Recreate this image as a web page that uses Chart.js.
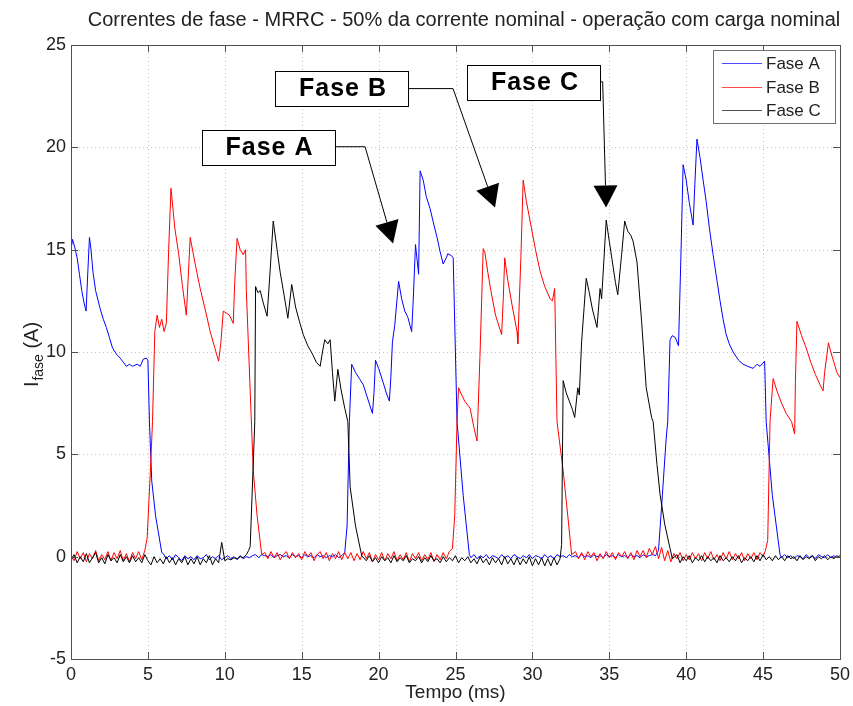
<!DOCTYPE html>
<html>
<head>
<meta charset="utf-8">
<script src="https://cdn.jsdelivr.net/npm/chart.js@4.4.1/dist/chart.umd.min.js"></script>
<style>
  html, body { margin: 0; padding: 0; background: #fff; }
  #wrap { width: 853px; height: 706px; }
</style>
</head>
<body>
<div id="wrap"><canvas id="grafico" width="853" height="706"></canvas></div>
<script>
// Correntes de fase: pares [tempo (ms), corrente (A)]
const faseA = [
  [0,15.0],[0.1,15.5],[0.25,15.1],[0.4,14.6],[0.55,13.8],[0.7,13.0],[0.85,12.4],[0.98,12.0],[1.1,14.0],[1.2,15.6],
  [1.3,15.0],[1.43,13.9],[1.6,13.0],[1.9,12.1],[2.1,11.6],[2.3,11.2],[2.5,10.7],[2.7,10.2],[2.95,9.9],[3.2,9.7],
  [3.4,9.5],[3.6,9.3],[3.8,9.4],[4.0,9.3],[4.3,9.4],[4.5,9.3],[4.7,9.65],[4.9,9.7],[5.0,9.6],[5.1,6.6],
  [5.25,3.7],[5.5,2.0],[5.9,0.2],
  [6.0,0.15],[6.2,-0.1],[6.4,0.05],[6.6,-0.15],[6.8,0.1],[7.0,-0.05],[7.2,-0.2],[7.4,0.05],[7.6,-0.1],[7.8,0.0],
  [8.0,-0.15],[8.2,0.05],[8.4,-0.1],[8.6,-0.05],[8.8,0.1],[9.0,-0.15],[9.2,0.0],[9.4,-0.1],[9.6,0.05],[9.8,-0.15],
  [10.0,-0.05],[10.2,0.05],[10.4,-0.1],[10.6,0.0],[10.8,-0.15],[11.0,0.05],[11.2,-0.1],[11.4,0.0],[11.6,-0.05],[11.8,0.05],
  [12.0,0.1],[12.2,-0.05],[12.4,0.1],[12.6,0.05],[12.8,0.0],[13.0,0.1],[13.2,-0.05],[13.4,0.05],[13.6,0.1],[13.8,0.0],
  [14.0,0.05],[14.2,-0.05],[14.4,0.1],[14.6,0.0],[14.8,0.05],[15.0,-0.05],[15.2,0.1],[15.4,0.0],[15.6,0.05],[15.8,-0.05],
  [16.0,0.1],[16.2,0.0],[16.4,0.05],[16.6,-0.05],[16.8,0.05],[17.0,0.0],[17.2,0.1],[17.4,-0.05],[17.6,0.05],[17.8,0.2],
  [17.95,1.5],[18.1,6.6],[18.25,9.4],[18.5,9.0],[18.75,8.7],[19.0,8.4],[19.3,7.7],[19.6,7.0],[19.7,8.0],[19.8,9.6],
  [20.0,9.2],[20.3,8.5],[20.5,8.0],[20.7,7.6],[20.8,8.8],[20.9,10.5],[21.05,11.3],[21.3,13.45],[21.5,12.6],[21.7,12.0],
  [21.9,11.7],[22.15,11.0],[22.25,12.5],[22.4,15.25],[22.6,13.8],[22.7,18.85],[22.9,18.4],[23.1,17.6],[23.35,17.0],[23.6,16.2],
  [23.8,15.6],[24.0,14.9],[24.2,14.3],[24.4,14.6],[24.5,14.8],[24.75,14.7],[24.85,14.6],[25.1,6.6],[25.5,3.0],[25.9,0.1],
  [26.0,-0.05],[26.2,0.1],[26.4,-0.1],[26.6,0.05],[26.8,-0.05],[27.0,0.1],[27.2,-0.1],[27.4,0.05],[27.6,0.0],[27.8,-0.1],
  [28.0,0.1],[28.2,-0.05],[28.4,0.05],[28.6,-0.1],[28.8,0.1],[29.0,0.0],[29.2,-0.1],[29.4,0.05],[29.6,-0.05],[29.8,0.1],
  [30.0,-0.1],[30.2,0.05],[30.4,0.0],[30.6,-0.1],[30.8,0.1],[31.0,-0.05],[31.2,0.05],[31.4,-0.1],[31.6,0.1],[31.8,0.0],
  [32.0,0.05],[32.2,-0.05],[32.4,0.1],[32.6,0.0],[32.8,0.05],[33.0,-0.05],[33.2,0.1],[33.4,0.0],[33.6,0.05],[33.8,-0.05],
  [34.0,0.1],[34.2,0.0],[34.4,0.05],[34.6,-0.05],[34.8,0.1],[35.0,0.0],[35.2,0.05],[35.4,-0.05],[35.6,0.1],[35.8,0.0],
  [36.0,0.05],[36.2,-0.05],[36.4,0.1],[36.6,0.0],[36.8,0.05],[37.0,-0.05],[37.2,0.1],[37.4,0.0],[37.6,0.05],[37.8,0.1],
  [38.0,0.05],[38.2,0.3],[38.45,3.0],[38.7,5.8],[38.8,6.6],[38.95,10.6],[39.1,10.8],[39.3,10.7],[39.5,10.3],[39.65,14.5],
  [39.8,19.15],[40.0,18.4],[40.2,17.3],[40.45,16.2],[40.55,18.0],[40.7,20.4],[40.9,19.5],[41.1,18.4],[41.3,17.35],[41.5,16.1],
  [41.75,14.75],[42.0,13.5],[42.2,12.5],[42.4,11.6],[42.6,10.85],[42.8,10.4],[43.05,10.0],[43.4,9.6],[43.7,9.4],[44.0,9.3],
  [44.35,9.2],[44.6,9.4],[44.8,9.3],[45.1,9.55],[45.2,6.6],[45.6,3.0],[46.1,0.1],
  [46.2,-0.05],[46.4,0.1],[46.6,-0.05],[46.8,0.05],[47.0,-0.1],[47.2,0.05],[47.4,0.0],[47.6,-0.1],[47.8,0.1],[48.0,-0.05],
  [48.2,0.05],[48.4,-0.1],[48.6,0.1],[48.8,0.0],[49.0,-0.05],[49.2,0.1],[49.4,-0.05],[49.6,0.05],[49.8,-0.05],[50.0,0.05]
];

const faseB = [
  [0,0.1],[0.2,-0.2],[0.4,0.25],[0.6,-0.1],[0.8,0.2],[1.0,-0.25],[1.2,0.15],[1.4,-0.1],[1.6,0.3],[1.8,-0.2],
  [2.0,0.1],[2.2,-0.15],[2.4,0.25],[2.6,-0.2],[2.8,0.2],[3.0,-0.1],[3.2,0.3],[3.4,-0.2],[3.6,0.15],[3.8,-0.25],
  [4.0,0.2],[4.2,-0.1],[4.4,0.25],[4.6,-0.15],[4.8,0.3],
  [4.95,0.9],[5.15,4.0],[5.3,6.6],[5.45,11.0],[5.6,11.8],[5.75,11.2],[5.9,11.6],[6.05,11.0],[6.2,11.4],[6.35,15.0],
  [6.5,18.0],[6.75,16.05],[7.0,14.8],[7.25,13.2],[7.5,11.8],[7.75,15.6],[8.1,14.2],[8.4,13.1],[8.75,12.0],[9.05,11.0],
  [9.35,10.2],[9.6,9.55],[9.75,10.5],[9.9,12.0],[10.1,11.9],[10.3,11.8],[10.55,11.4],[10.65,13.5],[10.8,15.55],[11.0,15.0],
  [11.2,14.75],[11.35,15.0],[11.4,13.0],[11.85,4.2],[12.1,2.0],[12.4,0.1],
  [12.6,0.2],[12.8,-0.1],[13.0,0.25],[13.2,-0.05],[13.4,0.2],[13.6,-0.15],[13.8,0.1],[14.0,0.25],[14.2,-0.1],[14.4,0.2],
  [14.6,-0.05],[14.8,0.15],[15.0,-0.15],[15.2,0.25],[15.4,0.0],[15.6,0.2],[15.8,-0.2],[16.0,0.1],[16.2,0.25],[16.4,-0.1],
  [16.6,0.2],[16.8,-0.2],[17.0,0.15],[17.2,-0.1],[17.4,0.25],[17.6,-0.15],[17.8,0.2],[18.0,-0.1],[18.2,0.2],[18.4,-0.2],
  [18.6,0.15],[18.8,-0.15],[19.0,0.25],[19.2,-0.1],[19.4,0.2],[19.6,-0.25],[19.8,0.1],[20.0,-0.15],[20.2,0.2],[20.4,-0.2],
  [20.6,0.15],[20.8,-0.1],[21.0,0.25],[21.2,-0.2],[21.4,0.1],[21.6,-0.15],[21.8,0.2],[22.0,-0.25],[22.2,0.15],[22.4,-0.1],
  [22.6,0.2],[22.8,-0.2],[23.0,0.1],[23.2,-0.15],[23.4,0.2],[23.6,-0.25],[23.8,0.1],[24.0,-0.15],[24.2,0.2],[24.4,-0.1],
  [24.6,0.25],[24.8,0.4],
  [24.95,2.0],[25.1,6.6],[25.2,8.25],[25.4,7.9],[25.6,7.6],[25.95,7.25],[26.2,6.3],[26.4,5.65],[26.6,10.0],[26.8,15.05],
  [26.9,14.9],[27.1,13.9],[27.3,13.0],[27.6,11.8],[28.0,10.85],[28.1,12.5],[28.2,14.6],[28.4,13.5],[28.7,12.2],[29.0,11.0],
  [29.05,10.4],[29.25,14.6],[29.4,18.4],[29.6,17.4],[29.85,16.4],[30.2,15.0],[30.5,13.95],[30.8,13.2],[31.15,12.6],[31.3,12.5],
  [31.45,13.1],[31.6,6.6],[32.0,4.2],[32.3,2.0],[32.55,0.1],
  [32.8,0.25],[33.0,-0.1],[33.2,0.2],[33.4,-0.15],[33.6,0.25],[33.8,0.0],[34.0,0.2],[34.2,-0.2],[34.4,0.15],[34.6,-0.1],
  [34.8,0.25],[35.0,-0.05],[35.2,0.2],[35.4,-0.15],[35.6,0.2],[35.8,0.0],[36.0,0.25],[36.2,-0.1],[36.4,0.2],[36.6,-0.15],
  [36.8,0.3],[37.0,0.0],[37.2,0.3],[37.4,-0.05],[37.6,0.4],[37.8,0.1],[38.0,0.5],[38.2,-0.1],[38.4,0.45],[38.6,-0.2],
  [38.8,0.3],[39.0,-0.25],[39.2,0.15],[39.4,-0.1],[39.6,0.2],[39.8,-0.2],[40.0,0.1],[40.2,-0.15],[40.4,0.2],[40.6,-0.1],
  [40.8,0.15],[41.0,-0.2],[41.2,0.2],[41.4,-0.1],[41.6,0.25],[41.8,-0.15],[42.0,0.1],[42.2,-0.2],[42.4,0.2],[42.6,-0.1],
  [42.8,0.25],[43.0,-0.15],[43.2,0.15],[43.4,-0.1],[43.6,0.2],[43.8,-0.2],[44.0,0.15],[44.2,-0.1],[44.4,0.2],[44.6,-0.15],
  [44.8,0.2],[45.0,0.0],[45.15,0.3],
  [45.3,0.8],[45.45,6.6],[45.65,8.7],[45.9,8.1],[46.2,7.5],[46.5,7.0],[46.85,6.6],[47.05,6.0],[47.1,8.5],[47.2,11.5],
  [47.5,10.8],[47.8,10.2],[48.1,9.5],[48.4,8.9],[48.7,8.4],[48.9,8.1],[49.0,9.0],[49.25,10.45],[49.4,10.0],[49.6,9.5],
  [49.8,9.0],[50.0,8.75]
];

const faseC = [
  [0,-0.2],[0.2,0.1],[0.4,-0.3],[0.6,0.0],[0.8,-0.25],[1.0,0.15],[1.2,-0.3],[1.4,-0.05],[1.6,0.2],[1.8,-0.3],
  [2.0,-0.05],[2.2,-0.35],[2.4,0.1],[2.6,-0.2],[2.8,-0.05],[3.0,-0.3],[3.2,0.1],[3.4,-0.25],[3.6,0.0],[3.8,-0.3],
  [4.0,0.05],[4.2,-0.25],[4.4,-0.05],[4.6,-0.3],[4.8,0.1],[5.0,-0.2],[5.2,-0.4],[5.4,0.0],[5.6,-0.3],[5.8,-0.1],
  [6.0,-0.35],[6.2,0.0],[6.4,-0.3],[6.6,-0.05],[6.8,-0.4],[7.0,-0.1],[7.2,-0.3],[7.4,0.0],[7.6,-0.4],[7.8,-0.1],
  [8.0,-0.35],[8.2,0.0],[8.4,-0.4],[8.6,-0.1],[8.8,-0.3],[9.0,0.05],[9.2,-0.4],[9.4,-0.1],[9.6,-0.3],[9.8,0.7],
  [10.0,-0.2],[10.2,-0.1],[10.4,-0.15],[10.6,-0.05],[10.8,-0.1],[11.0,0.0],[11.2,-0.05],[11.4,0.1],[11.55,0.3],
  [11.65,0.5],[11.95,6.6],[12.0,13.2],[12.15,12.9],[12.3,13.0],[12.5,12.4],[12.75,11.75],[12.95,14.0],[13.15,16.4],[13.4,15.0],
  [13.6,13.9],[13.85,12.8],[14.1,11.65],[14.35,13.3],[14.6,12.2],[14.85,11.5],[15.1,10.85],[15.4,10.3],[15.7,9.9],[15.95,9.5],
  [16.2,9.3],[16.35,10.0],[16.5,10.6],[16.7,10.4],[16.85,10.6],[17.0,9.0],[17.15,7.6],[17.35,9.15],[17.55,8.2],[17.8,7.25],
  [18.0,6.6],[18.15,3.4],[18.5,1.5],[18.9,0.05],
  [19.2,-0.2],[19.4,0.05],[19.6,-0.25],[19.8,-0.05],[20.0,-0.3],[20.2,0.0],[20.4,-0.2],[20.6,-0.05],[20.8,-0.3],[21.0,0.05],
  [21.2,-0.25],[21.4,-0.05],[21.6,-0.2],[21.8,0.05],[22.0,-0.3],[22.2,-0.1],[22.4,-0.2],[22.6,0.0],[22.8,-0.3],[23.0,-0.05],
  [23.2,-0.25],[23.4,0.05],[23.6,-0.2],[23.8,-0.1],[24.0,-0.3],[24.2,0.0],[24.4,-0.25],[24.6,-0.05],[24.8,-0.2],[25.0,0.05],
  [25.2,-0.3],[25.4,-0.05],[25.6,-0.2],[25.8,0.0],[26.0,-0.3],[26.2,-0.1],[26.4,-0.35],[26.6,0.0],[26.8,-0.3],[27.0,-0.1],
  [27.2,-0.4],[27.4,-0.05],[27.6,-0.3],[27.8,-0.1],[28.0,-0.4],[28.2,0.0],[28.4,-0.35],[28.6,-0.1],[28.8,-0.4],[29.0,-0.05],
  [29.2,-0.4],[29.4,-0.1],[29.6,-0.35],[29.8,0.0],[30.0,-0.45],[30.2,-0.1],[30.4,-0.4],[30.6,-0.05],[30.8,-0.45],[31.0,-0.1],
  [31.2,-0.45],[31.4,-0.05],[31.6,-0.4],[31.8,-0.1],
  [31.9,0.6],[32.0,8.6],[32.2,8.0],[32.4,7.6],[32.6,7.2],[32.75,6.8],[32.95,8.25],[33.05,7.9],[33.2,10.5],[33.5,13.6],
  [33.7,12.9],[33.9,12.1],[34.2,11.2],[34.4,13.1],[34.5,12.6],[34.65,14.5],[34.8,16.45],[35.0,15.4],[35.2,14.4],[35.4,13.4],
  [35.55,12.8],[35.8,14.75],[36.0,16.4],[36.2,15.9],[36.4,15.7],[36.55,15.4],[36.8,14.4],[37.1,11.5],[37.4,8.25],[37.75,6.8],
  [37.85,6.6],[38.1,4.5],[38.3,3.05],[38.6,1.6],[38.95,0.4],[39.1,-0.1],
  [39.4,0.1],[39.6,-0.3],[39.8,0.0],[40.0,-0.2],[40.2,0.05],[40.4,-0.3],[40.6,-0.05],[40.8,-0.2],[41.0,0.05],[41.2,-0.25],
  [41.4,0.0],[41.6,-0.2],[41.8,-0.05],[42.0,-0.3],[42.2,0.05],[42.4,-0.2],[42.6,-0.05],[42.8,-0.25],[43.0,0.0],[43.2,-0.2],
  [43.4,0.05],[43.6,-0.3],[43.8,-0.05],[44.0,-0.2],[44.2,0.0],[44.4,-0.25],[44.6,0.05],[44.8,-0.2],[45.0,0.1],[45.2,-0.15],
  [45.4,0.0],[45.6,-0.2],[45.8,0.05],[46.0,-0.15],[46.2,0.0],[46.4,-0.2],[46.6,0.05],[46.8,-0.1],[47.0,0.0],[47.2,-0.2],
  [47.4,0.05],[47.6,-0.15],[47.8,0.0],[48.0,-0.1],[48.2,0.05],[48.4,-0.2],[48.6,0.0],[48.8,-0.1],[49.0,0.05],[49.2,-0.15],
  [49.4,0.0],[49.6,-0.1],[49.8,0.05],[50.0,-0.05]
];

const nomesSeries = ['Fase A', 'Fase B', 'Fase C'];
const coresSeries = ['#0000ff', '#ff0000', '#000000'];
const coresLegenda = ['#4a4aff', '#ff4a4a', '#505050'];
const xTicks = [0, 5, 10, 15, 20, 25, 30, 35, 40, 45, 50];
const yTicks = [-5, 0, 5, 10, 15, 20, 25];

// caixas de texto com setas: centro da caixa, cotovelo e ponta da seta (ms, A)
const rotulos = [
  { texto: 'Fase A', centro: [12.84, 20.0], cotovelo: [19.12, 20.03], ponta: [20.94, 15.3] },
  { texto: 'Fase B', centro: [17.62, 22.88], cotovelo: [24.84, 22.87], ponta: [27.57, 17.06] },
  { texto: 'Fase C', centro: [30.1, 23.17], cotovelo: [34.57, 23.2], ponta: [34.79, 17.06] }
];

const tituloGrafico = 'Correntes de fase - MRRC - 50% da corrente nominal - operação com carga nominal';
const FONTE = '"Liberation Sans", Arial, sans-serif';

const molduraPlugin = {
  id: 'moldura',
  beforeDatasetsDraw(chart) {
    const ctx = chart.ctx, a = chart.chartArea;
    const sx = chart.scales.x, sy = chart.scales.y;
    ctx.save();
    ctx.strokeStyle = '#c4c4c4';
    ctx.lineWidth = 1;
    ctx.setLineDash([1, 3]);
    xTicks.forEach(function(t) {
      const px = Math.round(sx.getPixelForValue(t)) + 0.5;
      ctx.beginPath(); ctx.moveTo(px, a.top); ctx.lineTo(px, a.bottom); ctx.stroke();
    });
    yTicks.forEach(function(t) {
      const py = Math.round(sy.getPixelForValue(t)) + 0.5;
      ctx.beginPath(); ctx.moveTo(a.left, py); ctx.lineTo(a.right, py); ctx.stroke();
    });
    ctx.restore();
  },
  afterDatasetsDraw(chart) {
    const ctx = chart.ctx, a = chart.chartArea;
    const sx = chart.scales.x, sy = chart.scales.y;
    ctx.save();
    // caixa dos eixos e marcas para dentro
    ctx.strokeStyle = '#505050';
    ctx.lineWidth = 1;
    ctx.strokeRect(Math.round(a.left) + 0.5, Math.round(a.top) + 0.5, Math.round(a.right - a.left), Math.round(a.bottom - a.top));
    ctx.beginPath();
    xTicks.forEach(function(t) {
      const px = Math.round(sx.getPixelForValue(t)) + 0.5;
      ctx.moveTo(px, a.bottom); ctx.lineTo(px, a.bottom - 7);
      ctx.moveTo(px, a.top); ctx.lineTo(px, a.top + 7);
    });
    yTicks.forEach(function(t) {
      const py = Math.round(sy.getPixelForValue(t)) + 0.5;
      ctx.moveTo(a.left, py); ctx.lineTo(a.left + 7, py);
      ctx.moveTo(a.right, py); ctx.lineTo(a.right - 7, py);
    });
    ctx.stroke();

    // rótulos com setas
    rotulos.forEach(function(r) {
      const cx = sx.getPixelForValue(r.centro[0]), cy = sy.getPixelForValue(r.centro[1]);
      const ex = sx.getPixelForValue(r.cotovelo[0]), ey = sy.getPixelForValue(r.cotovelo[1]);
      const tx = sx.getPixelForValue(r.ponta[0]), ty = sy.getPixelForValue(r.ponta[1]);
      const w = 133, h = 35;
      ctx.fillStyle = '#fff';
      ctx.fillRect(cx - w / 2, cy - h / 2, w, h);
      ctx.strokeStyle = '#000';
      ctx.lineWidth = 1;
      ctx.strokeRect(Math.round(cx - w / 2) + 0.5, Math.round(cy - h / 2) + 0.5, w, h);
      ctx.fillStyle = '#000';
      ctx.font = 'bold 25px ' + FONTE;
      ctx.letterSpacing = '1px';
      ctx.textAlign = 'center';
      ctx.textBaseline = 'middle';
      ctx.fillText(r.texto, cx + 1, cy + 1);
      ctx.letterSpacing = '0px';
      // linha até a ponta
      const ang = Math.atan2(ty - ey, tx - ex);
      const comp = 22, meia = 12;
      const bx = tx - comp * Math.cos(ang), by = ty - comp * Math.sin(ang);
      ctx.beginPath();
      ctx.moveTo(cx + w / 2, ey);
      ctx.lineTo(ex, ey);
      ctx.lineTo(bx, by);
      ctx.stroke();
      ctx.beginPath();
      ctx.moveTo(tx, ty);
      ctx.lineTo(bx + meia * Math.sin(ang), by - meia * Math.cos(ang));
      ctx.lineTo(bx - meia * Math.sin(ang), by + meia * Math.cos(ang));
      ctx.closePath();
      ctx.fill();
    });

    // legenda no canto superior direito
    const lx = a.right - 127, ly = a.top + 5, lw = 122, lh = 73;
    ctx.fillStyle = '#fff';
    ctx.fillRect(lx, ly, lw, lh);
    ctx.strokeStyle = '#707070';
    ctx.lineWidth = 1;
    ctx.strokeRect(Math.round(lx) + 0.5, Math.round(ly) + 0.5, lw, lh);
    ctx.font = '17px ' + FONTE;
    ctx.textAlign = 'left';
    ctx.textBaseline = 'middle';
    nomesSeries.forEach(function(nome, i) {
      const yy = Math.round(ly + 13 + i * 23.5) + 0.5;
      ctx.beginPath();
      ctx.strokeStyle = coresLegenda[i];
      ctx.lineWidth = 1.2;
      ctx.moveTo(lx + 9, yy); ctx.lineTo(lx + 49, yy);
      ctx.stroke();
      ctx.fillStyle = '#222';
      ctx.fillText(nome, lx + 53, yy + 1);
    });
    ctx.lineWidth = 1;

    // títulos
    ctx.fillStyle = '#222';
    ctx.font = '20px ' + FONTE;
    ctx.textAlign = 'center';
    ctx.textBaseline = 'middle';
    ctx.fillText(tituloGrafico, 464, 20, 758);
    ctx.font = '19px ' + FONTE;
    ctx.fillText('Tempo (ms)', (a.left + a.right) / 2, 693);
    ctx.translate(32, (a.top + a.bottom) / 2 + 3);
    ctx.rotate(-Math.PI / 2);
    ctx.textAlign = 'left';
    ctx.font = '20px ' + FONTE;
    const wI = ctx.measureText('I').width;
    ctx.font = '14px ' + FONTE;
    const wSub = ctx.measureText('fase').width;
    ctx.font = '20px ' + FONTE;
    const wA = ctx.measureText(' (A)').width;
    let x0 = -(wI + wSub + wA) / 2;
    ctx.fillText('I', x0, 0);
    ctx.font = '14px ' + FONTE;
    ctx.fillText('fase', x0 + wI + 1, 7);
    ctx.font = '20px ' + FONTE;
    ctx.fillText(' (A)', x0 + wI + wSub + 1, 0);
    ctx.restore();
  }
};

const datasets = [faseA, faseB, faseC].map(function(serie, i) {
  return {
    label: nomesSeries[i],
    data: serie.map(function(p) { return { x: p[0], y: p[1] }; }),
    borderColor: coresSeries[i],
    borderWidth: 1,
    pointRadius: 0,
    tension: 0,
    fill: false,
    order: 2 - i
  };
});

new Chart(document.getElementById('grafico').getContext('2d'), {
  type: 'line',
  data: { datasets: datasets },
  options: {
    responsive: false,
    animation: false,
    layout: { padding: { top: 45, right: 13, left: 0, bottom: 0 } },
    plugins: { legend: { display: false }, tooltip: { enabled: false }, title: { display: false } },
    scales: {
      x: {
        type: 'linear', min: 0, max: 50,
        afterBuildTicks: function(s) { s.ticks = xTicks.map(function(v) { return { value: v }; }); },
        afterFit: function(s) { s.height = 47; s.paddingLeft = 0; s.paddingRight = 0; },
        grid: { display: false, drawTicks: false },
        border: { display: false },
        ticks: { padding: 5, color: '#222', font: { family: FONTE, size: 18 }, maxRotation: 0 }
      },
      y: {
        type: 'linear', min: -5, max: 25,
        afterBuildTicks: function(s) { s.ticks = yTicks.map(function(v) { return { value: v }; }); },
        afterFit: function(s) { s.width = 71; s.paddingTop = 0; s.paddingBottom = 0; },
        grid: { display: false, drawTicks: false },
        border: { display: false },
        ticks: { padding: 5, color: '#222', font: { family: FONTE, size: 18 } }
      }
    }
  },
  plugins: [molduraPlugin]
});
</script>
</body>
</html>
